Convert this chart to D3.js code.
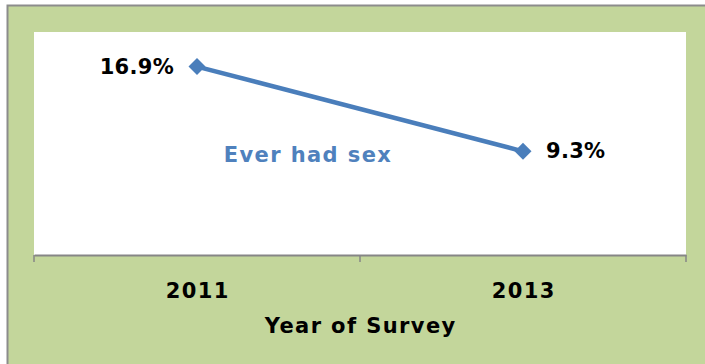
<!DOCTYPE html>
<html><head><meta charset="utf-8">
<script src="https://cdn.jsdelivr.net/npm/d3@7"></script>
<style>body{margin:0;background:#fff}svg{display:block}</style>
</head><body>
<script>
const categories = ["2011", "2013"];
const values = [16.9, 9.3];
const seriesName = "Ever had sex";
const axisTitle = "Year of Survey";

const W = 705, H = 364;
const svg = d3.select("body").append("svg").attr("width", W).attr("height", H);
const font = "'DejaVu Sans', Verdana, sans-serif";
const LS = 1.4;

svg.append("rect").attr("x", 7.5).attr("y", 5.5).attr("width", W + 10).attr("height", H + 10)
  .attr("fill", "#c3d69b").attr("stroke", "#8c8c8c").attr("stroke-width", 2);

const plot = {l: 34, r: 686, t: 32, b: 255};
svg.append("rect").attr("x", plot.l).attr("y", plot.t).attr("width", plot.r - plot.l).attr("height", plot.b - plot.t).attr("fill", "#fff");

const x = d3.scaleBand().domain(categories).range([plot.l, plot.r]);
const y = d3.scaleLinear().domain([0, 20]).range([plot.b, plot.t]);

const ax = svg.append("g").attr("transform", `translate(0,${plot.b})`)
  .call(d3.axisBottom(x).tickSize(0).tickFormat(""));
ax.select(".domain").attr("stroke", "#868686").attr("stroke-width", 2);
ax.selectAll(".tick").remove();
const edges = [plot.l, ...categories.map(c => x(c) + x.bandwidth())];
ax.selectAll("line.t").data(edges).enter().append("line")
  .attr("x1", d => d).attr("x2", d => d).attr("y1", 0).attr("y2", 7)
  .attr("stroke", "#868686").attr("stroke-width", 1.5);

function txt(sel, ls) {
  return sel.attr("font-family", font).attr("font-weight", "bold")
    .attr("font-size", 21).attr("letter-spacing", ls === undefined ? LS : ls);
}

txt(svg.selectAll("text.cat").data(categories).enter().append("text")
  .attr("x", d => x(d) + x.bandwidth() / 2 + LS / 2).attr("y", 298)
  .attr("text-anchor", "middle")).attr("fill", "#000").text(d => d);

txt(svg.append("text").attr("x", 360 + LS / 2).attr("y", 333).attr("text-anchor", "middle"))
  .attr("fill", "#000").text(axisTitle);

const pts = categories.map((c, i) => [x(c) + x.bandwidth() / 2, y(values[i])]);
svg.append("path").attr("d", d3.line()(pts)).attr("fill", "none")
  .attr("stroke", "#4a7ebb").attr("stroke-width", 4.5);

svg.selectAll("path.m").data(pts).enter().append("path")
  .attr("transform", d => `translate(${d[0]},${d[1]}) rotate(45)`)
  .attr("d", "M-6,-6H6V6H-6Z").attr("fill", "#4a7ebb");

txt(svg.selectAll("text.v").data(pts).enter().append("text")
  .attr("x", (d, i) => i === 0 ? d[0] - 23 : d[0] + 23)
  .attr("y", d => d[1] + 7)
  .attr("text-anchor", (d, i) => i === 0 ? "end" : "start"), 0.3)
  .attr("fill", "#000").text((d, i) => values[i] + "%");

txt(svg.append("text").attr("x", 308).attr("y", 162).attr("text-anchor", "middle"))
  .attr("fill", "#4f81bd").text(seriesName);
</script>
</body></html>
